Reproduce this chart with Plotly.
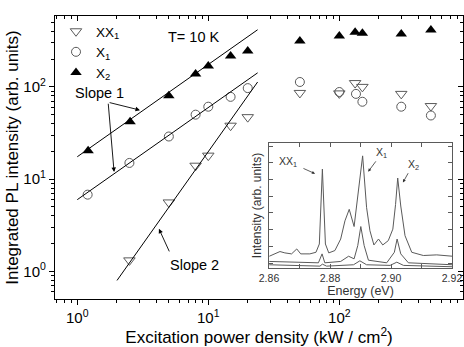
import numpy as np
import plotly.graph_objects as go

# ---------------- data ----------------
power_xx1 = [2.5, 5.0, 8.0, 10.0, 14.8, 20.0, 50.0, 100.0, 132.0, 150.0, 297.0, 500.0]
int_xx1 = [1.32, 5.6, 14.0, 18.0, 38.0, 47.0, 86.0, 85.0, 110.0, 100.0, 84.0, 62.0]

power_x1 = [1.2, 2.5, 5.0, 8.0, 10.0, 14.8, 20.0, 50.0, 100.0, 134.0, 150.0, 297.0, 500.0]
int_x1 = [6.8, 15.0, 29.0, 50.0, 61.0, 78.0, 97.0, 113.0, 88.0, 84.0, 69.0, 61.0, 49.0]

power_x2 = [1.21, 2.53, 5.0, 8.0, 10.0, 14.8, 20.0, 50.0, 100.0, 132.0, 150.0, 297.0, 500.0]
int_x2 = [20.3, 42.0, 80.0, 138.0, 168.0, 216.0, 245.0, 314.0, 357.0, 391.0, 382.0, 374.0, 414.0]

# fitted guide lines (end points)
fit_x2_x = [1.0, 23.8]
fit_x2_y = [17.5, 416.0]
fit_x1_x = [1.0, 23.8]
fit_x1_y = [6.0, 142.0]
fit_xx1_x = [2.01, 23.8]
fit_xx1_y = [0.80, 113.0]

# inset spectra (energy in eV, normalised intensity)
spec_top_e = [2.8601, 2.8636, 2.8652, 2.8674, 2.8691, 2.8704, 2.8734, 2.8754, 2.8765, 2.8775,
              2.8785, 2.8796, 2.8816, 2.8835, 2.8849, 2.8863, 2.8879, 2.8892, 2.8907, 2.8920,
              2.8931, 2.8944, 2.8959, 2.8973, 2.8991, 2.9006, 2.9015, 2.9022, 2.9032, 2.9046,
              2.9068, 2.9106, 2.9150, 2.9202]
spec_top_i = [0.085, 0.123, 0.112, 0.104, 0.144, 0.104, 0.104, 0.117, 0.184, 0.789,
              0.184, 0.112, 0.131, 0.224, 0.371, 0.464, 0.325, 0.597, 0.896, 0.477,
              0.291, 0.176, 0.224, 0.176, 0.211, 0.304, 0.504, 0.717, 0.491, 0.251,
              0.117, 0.091, 0.096, 0.085]
spec_mid_e = [2.8601, 2.8691, 2.8762, 2.8774, 2.8783, 2.8835, 2.8861, 2.8879, 2.8891, 2.8901,
              2.8912, 2.8926, 2.8986, 2.9011, 2.9020, 2.9032, 2.9057, 2.9202]
spec_mid_i = [0.043, 0.037, 0.032, 0.104, 0.032, 0.043, 0.085, 0.064, 0.171, 0.325,
              0.171, 0.053, 0.032, 0.117, 0.224, 0.104, 0.032, 0.016]
spec_low_e = [2.8601, 2.8767, 2.8775, 2.8789, 2.8877, 2.8898, 2.8920, 2.8997, 2.9019, 2.9041, 2.9202]
spec_low_i = [0.016, 0.005, 0.021, 0.005, 0.016, 0.048, 0.016, 0.011, 0.037, 0.011, 0.0]

main_tickvals = [1, 10, 100]
main_ticktext = ["10<sup>0</sup>", "10<sup>1</sup>", "10<sup>2</sup>"]
inset_tickvals = [2.86, 2.88, 2.90, 2.92]
inset_ticktext = ["2.86", "2.88", "2.90", "2.92"]

FONT = "Liberation Sans, Arial, sans-serif"
GRAY = "#5a5a5a"

fig = go.Figure()

fig.add_trace(go.Scatter(x=power_xx1, y=int_xx1, mode="markers", name="XX<sub>1</sub>",
                         marker=dict(symbol="triangle-down-open", size=10, color=GRAY,
                                     line=dict(width=1, color=GRAY))))
fig.add_trace(go.Scatter(x=power_x1, y=int_x1, mode="markers", name="X<sub>1</sub>",
                         marker=dict(symbol="circle-open", size=9, color=GRAY,
                                     line=dict(width=1, color=GRAY))))
fig.add_trace(go.Scatter(x=power_x2, y=int_x2, mode="markers", name="X<sub>2</sub>",
                         marker=dict(symbol="triangle-up", size=10, color="black")))

for fx, fy in [(fit_x2_x, fit_x2_y), (fit_x1_x, fit_x1_y), (fit_xx1_x, fit_xx1_y)]:
    fig.add_trace(go.Scatter(x=fx, y=fy, mode="lines", showlegend=False,
                             line=dict(color="black", width=1)))

for e, i in [(spec_top_e, spec_top_i), (spec_mid_e, spec_mid_i), (spec_low_e, spec_low_i)]:
    fig.add_trace(go.Scatter(x=e, y=i, mode="lines", showlegend=False, xaxis="x2", yaxis="y2",
                             line=dict(color=GRAY, width=1)))

def minor_log(lo, hi):
    vals = []
    for d in range(lo, hi):
        for m in range(2, 10):
            vals.append(m * 10 ** d)
    return vals

xr = [-0.170, 2.944]
yr = [-0.298, 2.768]
ML, MR, MT, MB = 55, 1, 16, 48
PW = 464 - ML - MR
PH = 347 - MT - MB

def px(xp):
    return (xp - ML) / PW

def py(yp):
    return (347 - MB - yp) / PH

fig.update_layout(
    width=464, height=347,
    margin=dict(l=ML, r=MR, t=MT, b=MB, autoexpand=False),
    paper_bgcolor="white", plot_bgcolor="white",
    font=dict(family=FONT, color="black", size=15),
    showlegend=True,
    legend=dict(x=px(56), y=1.0, xanchor="left", yanchor="top", bgcolor="rgba(0,0,0,0)",
                font=dict(size=13.5), itemwidth=30, tracegroupgap=0),
    xaxis=dict(type="log", range=xr, showgrid=False, zeroline=False, automargin=False,
               showline=True, linecolor="black", linewidth=1.3,
               ticks="outside", ticklen=5, tickcolor="black",
               tickvals=main_tickvals, ticktext=main_ticktext, tickfont=dict(size=15),
               minor=dict(tickmode="array", tickvals=minor_log(-1, 3), ticks="outside",
                          ticklen=3, tickcolor="black", showgrid=False),
               title=dict(text="Excitation power density (kW / cm<sup>2</sup>)",
                          font=dict(size=17), standoff=2)),
    yaxis=dict(type="log", range=yr, showgrid=False, zeroline=False, automargin=False,
               showline=True, linecolor="black", linewidth=1.3,
               ticks="outside", ticklen=5, tickcolor="black",
               tickvals=main_tickvals, ticktext=main_ticktext, tickfont=dict(size=15),
               minor=dict(tickmode="array", tickvals=minor_log(-1, 3), ticks="outside",
                          ticklen=3, tickcolor="black", showgrid=False),
               title=dict(text="Integrated PL intensity (arb. units)",
                          font=dict(size=17), standoff=0)),
    xaxis3=dict(type="log", range=xr, overlaying="x", side="top", showgrid=False,
                zeroline=False, showline=True, linecolor="black", linewidth=1.3, automargin=False,
                ticks="inside", ticklen=5, tickcolor="black", tickvals=main_tickvals,
                showticklabels=False,
                minor=dict(tickmode="array", tickvals=minor_log(-1, 3), ticks="inside",
                           ticklen=3, tickcolor="black", showgrid=False)),
    yaxis3=dict(type="log", range=yr, overlaying="y", side="right", showgrid=False,
                zeroline=False, showline=True, linecolor="black", linewidth=1.3, automargin=False,
                ticks="inside", ticklen=5, tickcolor="black", tickvals=main_tickvals,
                showticklabels=False,
                minor=dict(tickmode="array", tickvals=minor_log(-1, 3), ticks="inside",
                           ticklen=3, tickcolor="black", showgrid=False)),
    xaxis2=dict(domain=[px(269), px(452)], anchor="y2", range=[2.86, 2.92], showgrid=False,
                zeroline=False, showline=True, mirror="ticks", linecolor=GRAY, linewidth=1,
                automargin=False,
                ticks="inside", ticklen=4, tickcolor=GRAY,
                tickvals=inset_tickvals, ticktext=inset_ticktext,
                tickfont=dict(size=10.5, color="#333"),
                minor=dict(tickmode="array", tickvals=[2.87, 2.89, 2.91], ticks="inside",
                           ticklen=4, tickcolor=GRAY),
                title=dict(text="Energy (eV)", font=dict(size=12.5, color="#333"), standoff=0)),
    yaxis2=dict(domain=[py(268), py(143)], anchor="x2", range=[-0.01, 1.0], showgrid=False,
                zeroline=False, showline=True, mirror="ticks", linecolor=GRAY, linewidth=1,
                automargin=False,
                ticks="inside", ticklen=4, tickcolor=GRAY, tick0=0.03, dtick=0.135,
                showticklabels=False,
                title=dict(text="Intensity (arb. units)", font=dict(size=12, color="#333"),
                           standoff=3)),
)

fig.add_trace(go.Scatter(x=[power_x2[0]], y=[int_x2[0]], xaxis="x3", yaxis="y3", mode="markers",
                         marker=dict(opacity=0), showlegend=False, hoverinfo="skip"))

L = np.log10
arrow = dict(showarrow=True, arrowhead=2, arrowsize=1, arrowwidth=0.9, arrowcolor="black",
             text="", xref="x", yref="y", axref="x", ayref="y")
fig.add_annotation(x=L(3.01), y=L(56), ax=L(1.72), ay=L(68.2), **arrow)
fig.add_annotation(x=L(1.91), y=L(11.96), ax=L(1.72), ay=L(68.2), **arrow)
fig.add_annotation(x=L(4.2), y=L(2.9), ax=L(5.1), ay=L(1.59), **arrow)

fig.add_annotation(text="Slope 1", x=L(1.49), y=L(85.5), xref="x", yref="y",
                   showarrow=False, font=dict(size=14.5))
fig.add_annotation(text="Slope 2", x=L(7.9), y=L(1.18), xref="x", yref="y",
                   showarrow=False, font=dict(size=14.5))
fig.add_annotation(text="T= 10 K", x=L(7.8), y=L(344), xref="x", yref="y",
                   showarrow=False, font=dict(size=14.5))

iarrow = dict(showarrow=True, arrowhead=2, arrowsize=0.8, arrowwidth=0.8, arrowcolor="#333",
              text="", xref="x2", yref="y2", axref="x2", ayref="y2")
fig.add_annotation(x=2.8751, y=0.752, ax=2.8708, ay=0.80, **iarrow)
fig.add_annotation(x=2.8925, y=0.768, ax=2.8954, ay=0.864, **iarrow)
fig.add_annotation(x=2.9039, y=0.68, ax=2.9059, ay=0.768, **iarrow)
for txt, ex, iy in [("XX<sub>1</sub>", 2.8662, 0.848), ("X<sub>1</sub>", 2.8970, 0.92),
                    ("X<sub>2</sub>", 2.9075, 0.824)]:
    fig.add_annotation(text=txt, x=ex, y=iy, xref="x2", yref="y2", showarrow=False,
                       font=dict(size=10.5, color="#333"))

fig.write_html("out.html", config={"displayModeBar": False},
               post_script="document.body.style.margin='0';")
